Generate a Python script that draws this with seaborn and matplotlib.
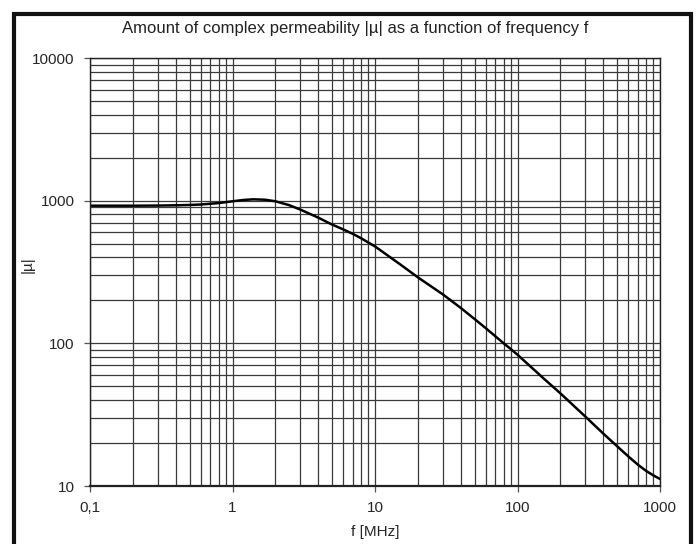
import numpy as np
import pandas as pd
from matplotlib import pyplot as plt
from matplotlib.patches import Rectangle
from matplotlib.ticker import FixedLocator, FixedFormatter, LogLocator, NullFormatter
import seaborn as sns

# frequency in MHz and |mu|
freq = [0.1, 0.2, 0.3, 0.4, 0.5, 0.6, 0.8, 1.0, 1.2, 1.4, 1.7, 2, 2.5, 3, 4, 5, 6, 7, 8, 9,
        10, 15, 20, 30, 40, 50, 60, 70, 80, 90, 100, 150, 200, 300, 400, 500, 600, 700, 800, 900, 1000]
mu = [922, 922, 924, 928, 933, 940, 962, 990, 1012, 1022, 1015, 990, 930, 865, 760, 680, 628, 585, 545, 508,
      478, 358, 290, 220, 177, 148, 127.5, 112, 100, 91, 83.2, 57.6, 44.6, 30.6, 23.3, 19.0, 16.1, 14.1,
      12.75, 11.85, 11.2]

x_ticks = [0.1, 1, 10, 100, 1000]
x_labels = ["0,1", "1", "10", "100", "1000"]
y_ticks = [10, 100, 1000, 10000]
y_labels = ["10", "100", "1000", "10000"]

df = pd.DataFrame({"f": freq, "mu": mu})

sns.set_style("white")
plt.rcParams["font.family"] = ["Liberation Sans", "DejaVu Sans"]

fig = plt.figure(figsize=(6.97, 5.44), dpi=100)
ax = fig.add_axes([90 / 697, 1 - 486 / 544, 570 / 697, 428 / 544])

sns.lineplot(data=df, x="f", y="mu", ax=ax, color="black", linewidth=1.8)

ax.set_xscale("log")
ax.set_yscale("log")
ax.set_xlim(0.1, 1000)
ax.set_ylim(10, 10000)

ax.xaxis.set_major_locator(FixedLocator(x_ticks))
ax.xaxis.set_major_formatter(FixedFormatter(x_labels))
ax.yaxis.set_major_locator(FixedLocator(y_ticks))
ax.yaxis.set_major_formatter(FixedFormatter(y_labels))
ax.xaxis.set_minor_locator(LogLocator(base=10, subs=np.arange(2, 10), numticks=20))
ax.yaxis.set_minor_locator(LogLocator(base=10, subs=np.arange(2, 10), numticks=20))
ax.xaxis.set_minor_formatter(NullFormatter())
ax.yaxis.set_minor_formatter(NullFormatter())

ax.grid(which="both", color="#3a3a3a", linewidth=0.9)
ax.tick_params(which="major", direction="out", length=4, width=0.9, color="#555555",
               labelsize=11, bottom=True, left=True)
ax.tick_params(axis="x", which="major", pad=7)
ax.tick_params(axis="y", which="major", pad=7)
ax.tick_params(which="minor", length=0)
for side, sp in ax.spines.items():
    sp.set_color("#222222")
    sp.set_linewidth(1.0)
ax.spines["bottom"].set_linewidth(1.6)

ax.set_xlabel("f [MHz]", fontsize=11, labelpad=7)
ax.set_ylabel("|µ|", fontsize=11)
ax.yaxis.set_label_coords((35 - 90) / 570, (486 - 265) / 428)

fig.text(355 / 697, 1 - 28 / 544, "Amount of complex permeability |µ| as a function of frequency f",
         ha="center", va="center", fontsize=12, color="#222222")

# outer frame around the whole picture
fig.patches.append(Rectangle((14 / 697, -0.05), 677 / 697, 1.05 - 14 / 544,
                             transform=fig.transFigure, fill=False,
                             edgecolor="#111111", linewidth=3))

plt.savefig("out.png", dpi=100)
